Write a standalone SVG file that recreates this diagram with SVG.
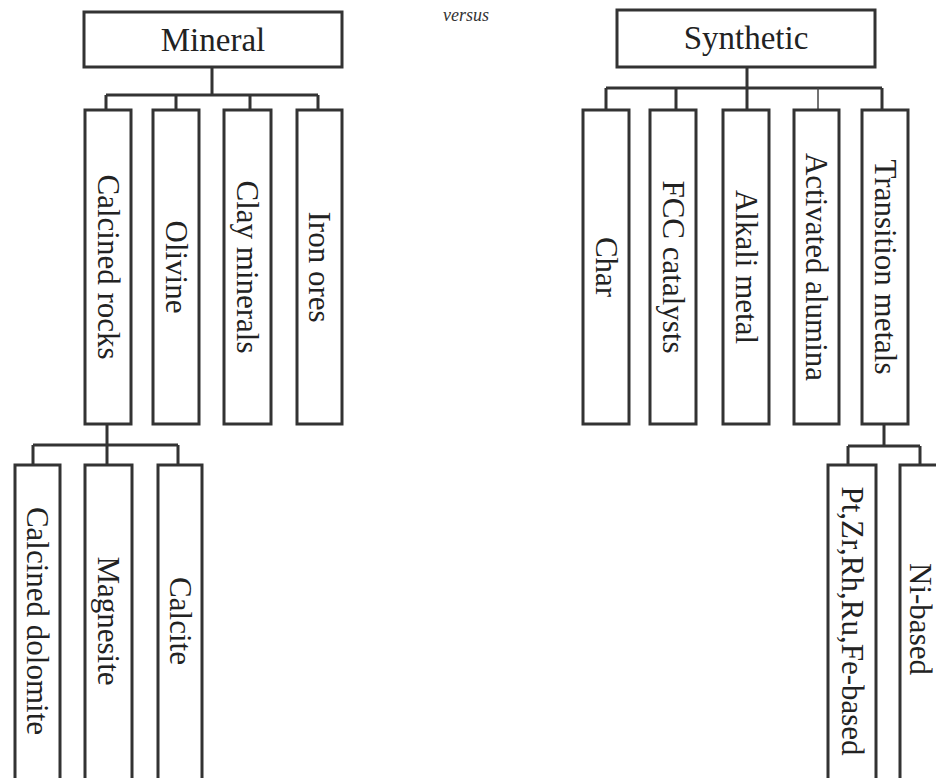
<svg xmlns="http://www.w3.org/2000/svg" width="936" height="778" viewBox="0 0 936 778">
<style>
.box{fill:#fff;stroke:#333;stroke-width:3}
.ln{fill:none;stroke:#333;stroke-width:3}
.thin{fill:none;stroke:#444;stroke-width:1.5}
.h{font-family:"Liberation Serif","Times New Roman",serif;font-size:33px;fill:#222;text-anchor:middle}
.v{font-family:"Liberation Serif","Times New Roman",serif;font-size:31px;fill:#222;text-anchor:middle;dominant-baseline:central}
.vs{font-family:"Liberation Serif","Times New Roman",serif;font-size:18px;font-style:italic;fill:#333;text-anchor:middle}
</style>
<rect width="936" height="778" fill="#fff"/>
<g id="connectors">
<path class="ln" d="M212 67V95M106 95H318M106 95V110M176 95V110M250 95V110M318 95V110"/>
<path class="ln" d="M107 424V445M33 445H178M33 445V465M107 445V465M178 445V465"/>
<path class="ln" d="M747 67V88M606 88H882M606 88V110M676 88V110M747 88V110M882 88V110"/>
<path class="thin" d="M818 88V110"/>
<path class="ln" d="M884 424V446M848 446H920M848 446V465M920 446V465"/>
</g>
<g id="mineral"><rect class="box" x="84" y="12" width="258" height="55"/><text class="h" x="213" y="51">Mineral</text></g>
<text class="vs" x="466" y="21">versus</text>
<g id="synthetic"><rect class="box" x="617" y="10" width="258" height="57"/><text class="h" x="746" y="49">Synthetic</text></g>
<g id="calcined-rocks"><rect class="box" x="85" y="110" width="46" height="314"/><text class="v" transform="translate(108 267) rotate(90)">Calcined rocks</text></g>
<g id="olivine"><rect class="box" x="153" y="110" width="46" height="314"/><text class="v" transform="translate(176 267) rotate(90)">Olivine</text></g>
<g id="clay-minerals"><rect class="box" x="224" y="110" width="47" height="314"/><text class="v" transform="translate(247.5 267) rotate(90)">Clay minerals</text></g>
<g id="iron-ores"><rect class="box" x="297" y="110" width="45" height="314"/><text class="v" transform="translate(319.5 267) rotate(90)">Iron ores</text></g>
<g id="calcined-dolomite"><rect class="box" x="15" y="465" width="45" height="330"/><text class="v" transform="translate(37.5 621) rotate(90)">Calcined dolomite</text></g>
<g id="magnesite"><rect class="box" x="85" y="465" width="47" height="330"/><text class="v" transform="translate(108.5 621) rotate(90)">Magnesite</text></g>
<g id="calcite"><rect class="box" x="158" y="465" width="44" height="330"/><text class="v" transform="translate(180 621) rotate(90)">Calcite</text></g>
<g id="char"><rect class="box" x="583" y="110" width="46" height="314"/><text class="v" transform="translate(606 267) rotate(90)">Char</text></g>
<g id="fcc"><rect class="box" x="650" y="110" width="46" height="314"/><text class="v" transform="translate(673 267) rotate(90)">FCC catalysts</text></g>
<g id="alkali"><rect class="box" x="723" y="110" width="46" height="314"/><text class="v" transform="translate(746 267) rotate(90)">Alkali metal</text></g>
<g id="activated-alumina"><rect class="box" x="794" y="110" width="45" height="314"/><text class="v" transform="translate(816.5 267) rotate(90)">Activated alumina</text></g>
<g id="transition-metals"><rect class="box" x="862" y="110" width="46" height="314"/><text class="v" transform="translate(885 267) rotate(90)">Transition metals</text></g>
<g id="pt-based"><rect class="box" x="828" y="465" width="48" height="330"/><text class="v" transform="translate(852 621) rotate(90)">Pt,Zr,Rh,Ru,Fe-based</text></g>
<g id="ni-based"><rect class="box" x="900" y="465" width="60" height="330"/><text class="v" transform="translate(920 619) rotate(90)">Ni-based</text></g>
</svg>
